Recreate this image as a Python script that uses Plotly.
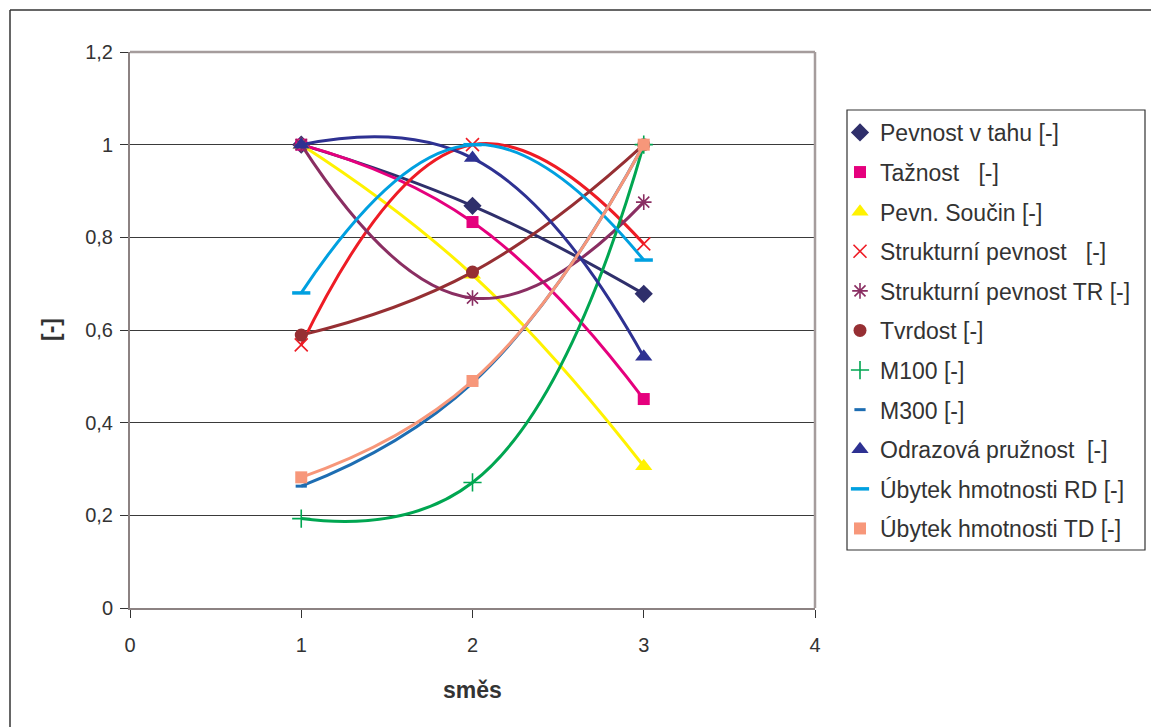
import plotly.graph_objects as go

# mixtures on the x axis
smes = [1, 2, 3]

# relative property values for each mixture
pevnost_v_tahu = [1.0, 0.868, 0.678]
taznost = [1.0, 0.833, 0.451]
pevn_soucin = [1.0, 0.719, 0.306]
strukturni_pevnost = [0.568, 1.0, 0.786]
strukturni_pevnost_tr = [1.0, 0.669, 0.876]
tvrdost = [0.589, 0.725, 1.0]
m100 = [0.193, 0.271, 1.0]
m300 = [0.263, 0.486, 1.0]
odrazova_pruznost = [1.0, 0.971, 0.542]
ubytek_rd = [0.680, 1.0, 0.751]
ubytek_td = [0.282, 0.490, 1.0]

series = [
    ("Pevnost v tahu [-]", pevnost_v_tahu, "#2F2F6B", "diamond", 14, 0),
    ("Tažnost   [-]", taznost, "#E5007D", "square", 12, 0),
    ("Pevn. Součin [-]", pevn_soucin, "#FFF200", "triangle-up", 15, 0),
    ("Strukturní pevnost   [-]", strukturni_pevnost, "#EE1C25", "x-thin", 13, 1.6),
    ("Strukturní pevnost TR [-]", strukturni_pevnost_tr, "#8A2E62", "asterisk", 13, 1.6),
    ("Tvrdost [-]", tvrdost, "#962F33", "circle", 13, 0),
    ("M100 [-]", m100, "#00A651", "cross-thin", 13, 1.6),
    ("M300 [-]", m300, "#1D6DB2", "line-ew", 8, 3),
    ("Odrazová pružnost  [-]", odrazova_pruznost, "#2E3192", "triangle-up", 15, 0),
    ("Úbytek hmotnosti RD [-]", ubytek_rd, "#00A0E0", "line-ew", 13, 3.5),
    ("Úbytek hmotnosti TD [-]", ubytek_td, "#F7977A", "square", 12, 0),
]

fig = go.Figure()
for i, (name, vals, color, symbol, size, mlw) in enumerate(series):
    # smoothed connecting line
    fig.add_trace(go.Scatter(
        x=smes, y=vals, name=name, mode="lines", showlegend=False,
        legendgroup=f"g{i}", hoverinfo="skip",
        line=dict(color=color, width=3, shape="spline", smoothing=1.3),
    ))
    # data point markers (also used as the legend key)
    fig.add_trace(go.Scatter(
        x=smes, y=vals, name=name, mode="markers",
        legendgroup=f"g{i}",
        marker=dict(symbol=symbol, size=size, color=color,
                    line=dict(color=color, width=mlw)),
    ))

text_color = "#333333"
font_family = "Liberation Sans, Arial, sans-serif"

L, R, T, B = 130, 336, 52, 119
W, H = 1151, 727
plot_w = W - L - R
plot_h = H - T - B


def px_x(px):
    return (px - L) / plot_w


def px_y(py):
    return 1 - (py - T) / plot_h


fig.update_layout(
    width=W, height=H,
    margin=dict(l=L, r=R, t=T, b=B),
    paper_bgcolor="white", plot_bgcolor="white",
    separators=", ",
    font=dict(family=font_family, color=text_color, size=20),
    showlegend=True,
    legend=dict(
        x=px_x(840), y=px_y(111), xanchor="left", yanchor="top",
        font=dict(size=23, color=text_color),
        borderwidth=0, bgcolor="rgba(0,0,0,0)",
        tracegroupgap=6.7, itemwidth=30,
    ),
    xaxis=dict(
        range=[0, 4], dtick=1, tick0=0,
        showgrid=False, zeroline=False,
        showline=True, linecolor="#8C8282", linewidth=2,
        ticks="outside", ticklen=8, tickcolor="#333333",
        tickfont=dict(size=20), ticklabelstandoff=10,
    ),
    yaxis=dict(
        range=[0, 1.2], dtick=0.2, tick0=0,
        showgrid=True, gridcolor="#3A3A3A", gridwidth=1,
        zeroline=False,
        showline=True, linecolor="#8C8282", linewidth=2,
        ticks="outside", ticklen=8, tickcolor="#333333",
        tickfont=dict(size=20), ticklabelstandoff=3,
    ),
)

# axis titles
fig.add_annotation(text="<b>směs</b>", xref="paper", yref="paper",
                   x=0.5, y=px_y(690), xanchor="center", yanchor="middle",
                   showarrow=False, font=dict(size=23, color=text_color))
fig.add_annotation(text="<b>[-]</b>", xref="paper", yref="paper",
                   x=px_x(51), y=px_y(330), xanchor="center", yanchor="middle",
                   textangle=-90, showarrow=False,
                   font=dict(size=23, color=text_color))

# plot area border on top and right
fig.add_shape(type="line", xref="paper", yref="paper", x0=0, x1=1, y0=1, y1=1,
              line=dict(color="#A59C9C", width=2.5))
fig.add_shape(type="line", xref="paper", yref="paper", x0=1, x1=1, y0=0, y1=1,
              line=dict(color="#A59C9C", width=2.5))

# legend frame
fig.add_shape(type="rect", xref="paper", yref="paper",
              x0=px_x(847), x1=px_x(1145), y0=px_y(550), y1=px_y(110),
              line=dict(color="#333333", width=1.2), layer="below")

# outer frame of the chart
fig.add_shape(type="line", xref="paper", yref="paper",
              x0=px_x(10), x1=px_x(W), y0=px_y(10), y1=px_y(10),
              line=dict(color="#333333", width=1.5))
fig.add_shape(type="line", xref="paper", yref="paper",
              x0=px_x(10), x1=px_x(10), y0=px_y(H), y1=px_y(10),
              line=dict(color="#333333", width=1.5))

fig.write_html("out.html")
